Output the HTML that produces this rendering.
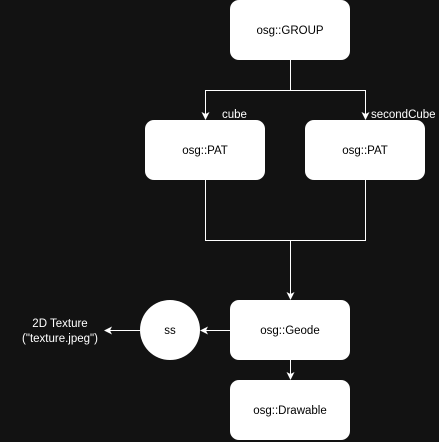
<!DOCTYPE html><html><head><style>body{margin:0;background:#121212;}svg{display:block}</style></head><body>
<svg width="439" height="442" xmlns="http://www.w3.org/2000/svg" font-family="Liberation Sans, sans-serif" font-size="11">
<rect width="439" height="442" fill="#121212"/>
<defs><marker id="a" markerWidth="8" markerHeight="8" refX="7" refY="4" orient="auto" markerUnits="userSpaceOnUse"><path d="M0,0L8,4L0,8L2,4z" fill="#fff"/></marker></defs>
<g stroke="#fff" stroke-width="1" fill="none">
<path d="M290.5,60V90.5H205.5V119" marker-end="url(#a)"/>
<path d="M290.5,90.5H365.5V119" marker-end="url(#a)"/>
<path d="M205.5,180V240.5H365.5V180"/>
<path d="M290.5,240.5V299" marker-end="url(#a)"/>
<path d="M230,330.5H201" marker-end="url(#a)"/>
<path d="M140,330.5H105" marker-end="url(#a)"/>
<path d="M290.5,360V379" marker-end="url(#a)"/>
</g>
<g fill="#fff">
<rect x="230" y="0" width="120" height="60" rx="9"/>
<rect x="145" y="120" width="120" height="60" rx="9"/>
<rect x="305" y="120" width="120" height="60" rx="9"/>
<rect x="230" y="300" width="120" height="60" rx="9"/>
<rect x="230" y="380" width="120" height="60" rx="9"/>
<circle cx="170" cy="330" r="30"/>
</g>
<g fill="#000" text-anchor="middle" font-size="11.5">
<text x="290" y="34">osg::GROUP</text>
<text x="205" y="154">osg::PAT</text>
<text x="365" y="154">osg::PAT</text>
<text x="290" y="334">osg::Geode</text>
<text x="290" y="414">osg::Drawable</text>
<text x="170" y="334">ss</text>
</g>
<g fill="#fff" font-size="11.5">
<text x="222" y="118">cube</text>
<text x="371" y="118">secondCube</text>
<text x="60" y="327" text-anchor="middle">2D Texture</text>
<text x="60" y="342" text-anchor="middle">("texture.jpeg")</text>
</g>
</svg>
</body></html>
